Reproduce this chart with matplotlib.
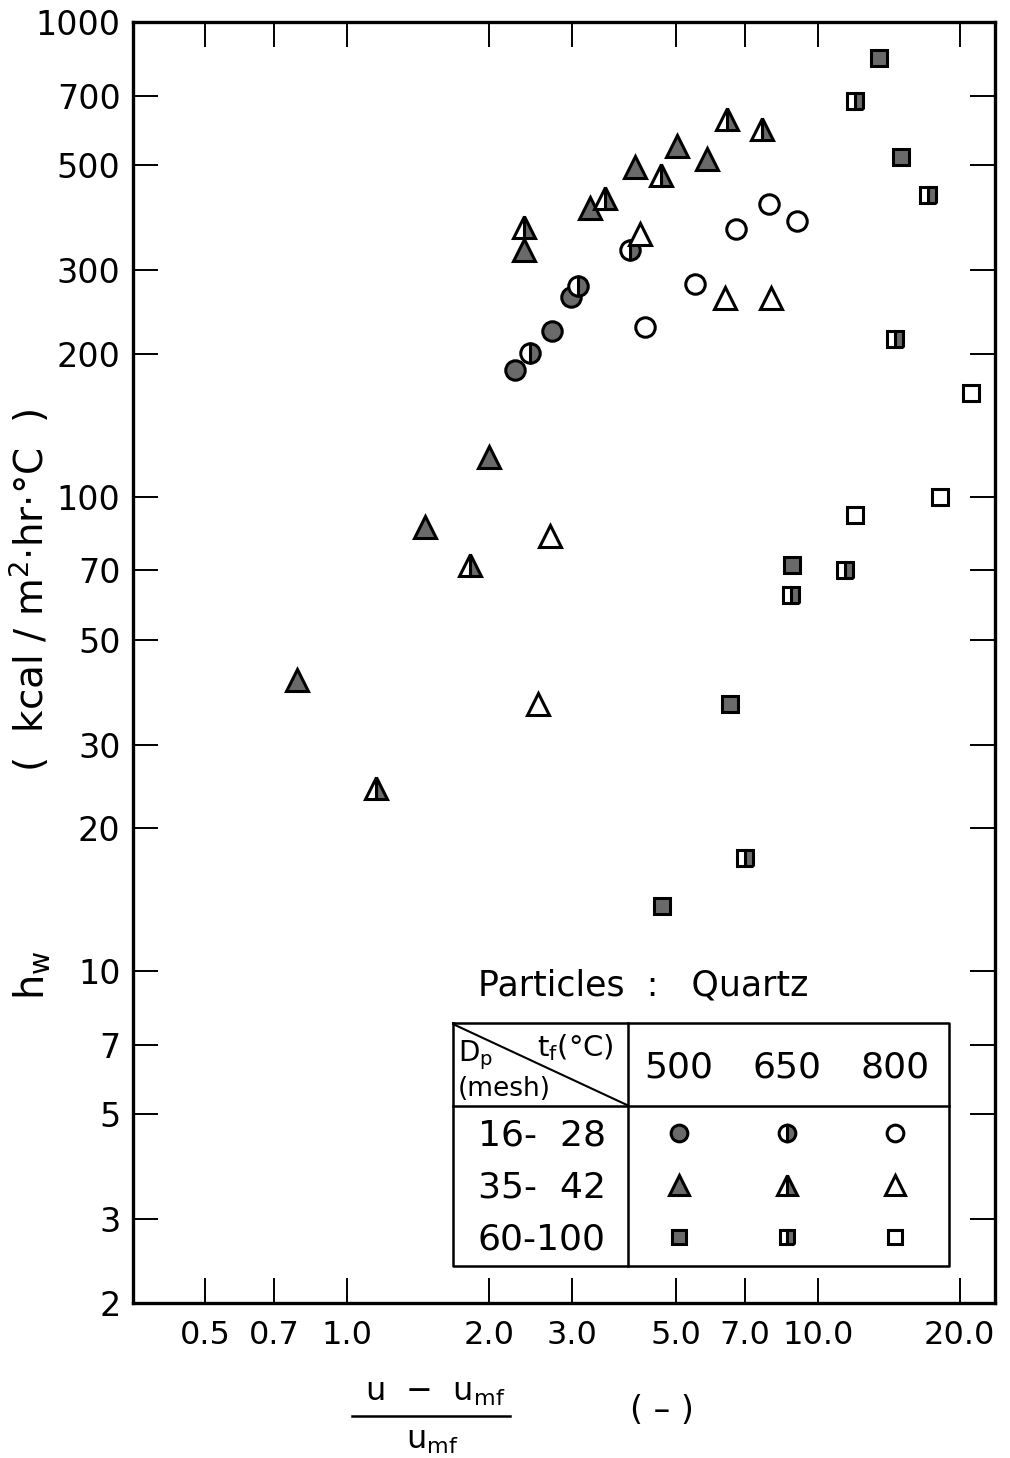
import matplotlib
matplotlib.use('Agg')
import matplotlib.pyplot as plt
from matplotlib.ticker import FixedLocator, NullLocator

# (u - umf)/umf  vs  hw  for quartz particles
# 16-28 mesh (circles)
c500_x = [2.27, 2.72, 2.99]
c500_y = [185, 223, 264]
c650_x = [2.45, 3.09, 3.99]
c650_y = [201, 278, 331]
c800_x = [4.29, 5.48, 6.70, 7.87, 9.02]
c800_y = [228, 281, 366, 414, 381]
# 35-42 mesh (triangles)
t500_x = [0.783, 1.46, 2.0, 2.38, 3.28, 4.09, 5.02, 5.81]
t500_y = [41.0, 86.5, 121, 331, 405, 496, 548, 515]
t650_x = [1.15, 1.82, 2.38, 3.53, 4.64, 6.41, 7.60]
t650_y = [24.3, 71.6, 370, 426, 477, 625, 596]
t800_x = [2.54, 2.70, 4.19, 6.35, 7.95]
t800_y = [36.6, 82.8, 358, 262, 262]
# 60-100 mesh (squares)
s500_x = [4.67, 6.51, 8.81, 13.5, 15.0]
s500_y = [13.7, 36.6, 71.6, 839, 520]
s650_x = [7.0, 8.77, 11.4, 12.0, 14.6, 17.1]
s650_y = [17.3, 61.9, 70.2, 682, 215, 432]
s800_x = [12.0, 18.2, 21.1]
s800_y = [91.6, 100, 165]

xticks = [0.5, 0.7, 1.0, 2.0, 3.0, 5.0, 7.0, 10.0, 20.0]
xticklabels = ['0.5', '0.7', '1.0', '2.0', '3.0', '5.0', '7.0', '10.0', '20.0']
yticks = [2, 3, 5, 7, 10, 20, 30, 50, 70, 100, 200, 300, 500, 700, 1000]

mesh_rows = ['16-  28', '35-  42', '60-100']
temps = ['500', '650', '800']

GRAY = '#6a6a6a'
W, H = 1010, 1458

plt.rcParams['font.family'] = ['DejaVu Sans']
fig = plt.figure(figsize=(W / 100, H / 100), dpi=100)
ax = fig.add_axes([133 / W, 1 - 1303 / H, (995 - 133) / W, (1303 - 22) / H])
ax.set_xscale('log')
ax.set_yscale('log')
ax.set_xlim(0.351, 23.76)
ax.set_ylim(2, 1000)


def style(marker, kind, size):
    s = dict(marker=marker, linestyle='none', markersize=size,
             markeredgecolor='black', markeredgewidth=2.2)
    if kind == 'full':
        s.update(markerfacecolor=GRAY)
    elif kind == 'half':
        s.update(markerfacecolor=GRAY, fillstyle='right', markerfacecoloralt='white')
    else:
        s.update(markerfacecolor='white')
    return s


sizes = {'o': 14, '^': 16, 's': 11.5}
series = [
    (c500_x, c500_y, 'o', 'full'), (c650_x, c650_y, 'o', 'half'), (c800_x, c800_y, 'o', 'open'),
    (t500_x, t500_y, '^', 'full'), (t650_x, t650_y, '^', 'half'), (t800_x, t800_y, '^', 'open'),
    (s500_x, s500_y, 's', 'full'), (s650_x, s650_y, 's', 'half'), (s800_x, s800_y, 's', 'open'),
]
for xs, ys, m, k in series:
    ax.plot(xs, ys, **style(m, k, sizes[m]))

ax.xaxis.set_major_locator(FixedLocator(xticks))
ax.xaxis.set_minor_locator(NullLocator())
ax.set_xticklabels(xticklabels)
ax.yaxis.set_major_locator(FixedLocator(yticks))
ax.yaxis.set_minor_locator(NullLocator())
ax.set_yticklabels([str(v) for v in yticks])
ax.tick_params(which='major', direction='in', length=18, width=1.4,
               top=True, right=True, labelsize=24, pad=9)
ax.tick_params(axis='x', labelsize=23, pad=12)
for sp in ax.spines.values():
    sp.set_linewidth(2.4)

# overlay in pixel units for labels and the symbol table
ov = fig.add_axes([0, 0, 1, 1])
ov.set_xlim(0, W)
ov.set_ylim(H, 0)
ov.axis('off')
ov.patch.set_visible(False)

ov.text(30, 590, r'(  kcal / m$^{\mathregular{2}}$$\cdot$hr$\cdot$°C  )', rotation=90,
        ha='center', va='center', fontsize=28)
ov.text(33, 975, r'h$_{\mathregular{w}}$', rotation=90, ha='center', va='center', fontsize=29)

ov.text(435, 1392, r'u  $-$  u$_{\mathregular{mf}}$', ha='center', va='center', fontsize=23)
ov.plot([352, 510], [1416, 1416], color='black', lw=1.8)
ov.text(432, 1440, r'u$_{\mathregular{mf}}$', ha='center', va='center', fontsize=23)
ov.text(662, 1410, '( – )', ha='center', va='center', fontsize=24)

# symbol table
ov.text(643, 985, 'Particles  :   Quartz', ha='center', va='center', fontsize=25)
ov.plot([453, 949, 949, 453, 453], [1023, 1023, 1266, 1266, 1023], color='black', lw=1.8)
ov.plot([628, 628], [1023, 1266], color='black', lw=1.8)
ov.plot([453, 949], [1106, 1106], color='black', lw=1.8)
ov.plot([455, 627], [1025, 1105], color='black', lw=1.5)
ov.text(458, 1055, r'D$_{\mathregular{p}}$', ha='left', va='center', fontsize=20)
ov.text(614, 1048, r't$_{\mathregular{f}}$(°C)', ha='right', va='center', fontsize=21)
ov.text(458, 1089, '(mesh)', ha='left', va='center', fontsize=19)

col_x = [679, 787, 895]
row_y = [1135, 1187, 1239]
for j, t in enumerate(temps):
    ov.text(col_x[j], 1068, t, ha='center', va='center', fontsize=26)
for i, r in enumerate(mesh_rows):
    ov.text(542, row_y[i], r, ha='center', va='center', fontsize=26)

legend_markers = ['o', '^', 's']
legend_kinds = ['full', 'half', 'open']
legend_sizes = {'o': 12, '^': 15, 's': 10.5}
for i, m in enumerate(legend_markers):
    for j, k in enumerate(legend_kinds):
        ov.plot([col_x[j]], [row_y[i] - 2], **style(m, k, legend_sizes[m]))

fig.savefig('out.png', dpi=100)
